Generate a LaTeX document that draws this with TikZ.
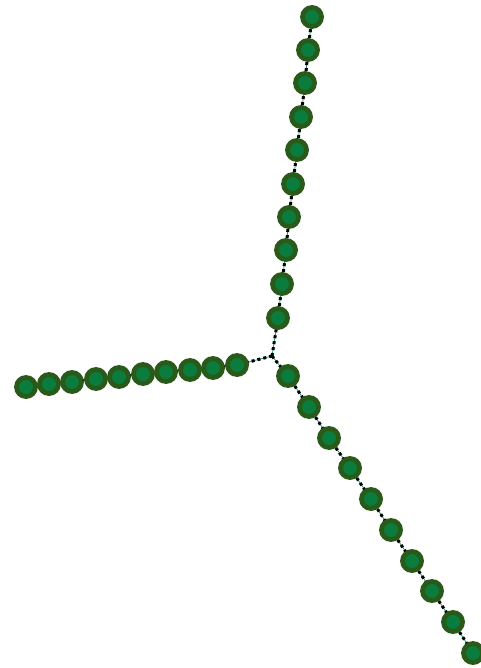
\documentclass[tikz,border=0pt]{standalone}
\definecolor{ringc}{HTML}{295A1A}
\definecolor{fillc}{HTML}{0A7D3E}
\definecolor{linec}{HTML}{1E9E6E}
\tikzset{
  bead/.style={circle, draw=ringc, fill=fillc, line width=4.8pt, minimum size=19pt, inner sep=0pt},
  link/.style={draw=linec, line width=0.8pt, postaction={draw=black, line width=3pt, dash pattern=on 3pt off 3pt}}
}
\begin{document}
\begin{tikzpicture}[x=1pt,y=-1pt]
\useasboundingbox (0,0) rectangle (480,668);
\coordinate (c) at (272,356);
\foreach \i/\x/\y in {1/278/318,2/282/284,3/286/250,4/289/217,5/293/184,6/297/150,7/301/117,8/305/83,9/308/50,10/312/17}
  \coordinate (t\i) at (\x,\y);
\foreach \i/\x/\y in {1/237/365,2/213/368,3/190/370,4/166/372,5/143/374,6/119/377,7/96/379,8/72/382,9/49/384,10/26/387}
  \coordinate (l\i) at (\x,\y);
\foreach \i/\x/\y in {1/288/376,2/309/407,3/329/438,4/350/468,5/371/499,6/391/530,7/412/561,8/432/591,9/453/622,10/473/653}
  \coordinate (r\i) at (\x,\y);
\foreach \b in {t,l,r}{
  \draw[link] (c) -- (\b1);
  \foreach \i [evaluate=\i as \j using int(\i+1)] in {1,...,9}
    \draw[link] (\b\i) -- (\b\j);
}
\foreach \b in {t,l,r}{
  \foreach \i in {1,...,10}
    \node[bead] (n\b\i) at (\b\i) {};
}
\end{tikzpicture}
\end{document}
